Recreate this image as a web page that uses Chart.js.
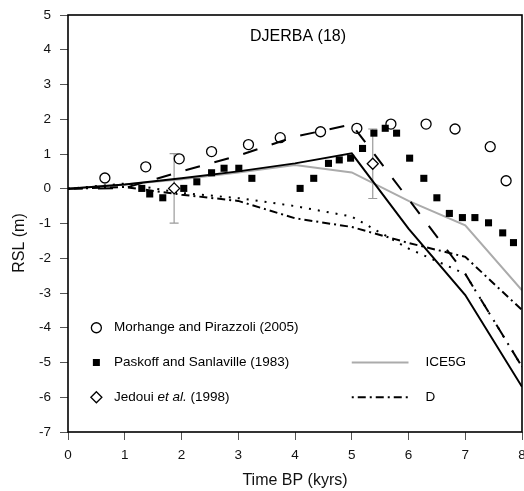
<!DOCTYPE html>
<html>
<head>
<meta charset="utf-8">
<script src="https://cdn.jsdelivr.net/npm/chart.js@4.4.1/dist/chart.umd.min.js"></script>
<style>
    html, body { margin: 0; padding: 0; background: #fff; }
    #wrap { width: 524px; height: 491px; position: relative; }
</style>
</head>
<body>
<div id="wrap"><canvas id="rslChart"></canvas></div>
<script>
// model curves, sampled every kyr
const modelAges = [0, 1, 2, 3, 4, 5, 6, 7, 8];
const modelSolid = [0, 0.12, 0.3, 0.5, 0.73, 1.02, -1.15, -3.06, -5.7];
const modelDashed = [0, 0.02, 0.5, 0.95, 1.5, 1.85, -0.3, -2.45, -5.12];
const modelDotted = [0, 0.15, -0.12, -0.27, -0.5, -0.8, -1.72, -2.45, -5.12];
const ice5g = [0, 0.12, 0.27, 0.47, 0.68, 0.47, -0.35, -1.05, -2.92];
const modelD = [0, 0.05, -0.17, -0.35, -0.85, -1.1, -1.56, -1.96, -3.49];

// observations
const morhangeAges = [0.65, 1.37, 1.96, 2.53, 3.18, 3.74, 4.45, 5.09, 5.69, 6.31, 6.82, 7.44, 7.72];
const morhangeRsl = [0.31, 0.63, 0.86, 1.07, 1.27, 1.47, 1.64, 1.74, 1.86, 1.86, 1.72, 1.21, 0.23];

const paskoffAges = [1.30, 1.44, 1.67, 2.04, 2.27, 2.53, 2.75, 3.01, 3.24, 4.09, 4.33, 4.59, 4.78, 4.98,
    5.19, 5.39, 5.59, 5.79, 6.02, 6.27, 6.50, 6.72, 6.95, 7.17, 7.41, 7.66, 7.85];
const paskoffRsl = [0.01, -0.15, -0.26, 0.01, 0.2, 0.46, 0.59, 0.59, 0.3, 0.01, 0.3, 0.73, 0.83, 0.88,
    1.16, 1.6, 1.74, 1.6, 0.88, 0.3, -0.26, -0.71, -0.83, -0.83, -0.98, -1.27, -1.55];

const jedouiAges = [1.87, 5.37];
const jedouiRsl = [0.01, 0.72];
const jedouiErr = [1.0, 1.0];

const xTicks = [0, 1, 2, 3, 4, 5, 6, 7, 8];
const yTicks = [-7, -6, -5, -4, -3, -2, -1, 0, 1, 2, 3, 4, 5];

const FONT = "'Liberation Sans', Arial, Helvetica, sans-serif";
const GREY = '#ababab';
const TICK_FONT = { family: FONT, size: 13.5 };

function toPoints(xs, ys) {
    return xs.map((x, i) => ({ x: x, y: ys[i] }));
}

// legend rows placed in data units inside the plot
const legendLeft = [
    { label: ['Morhange and Pirazzoli (2005)'], marker: 'circle', y: -4 },
    { label: ['Paskoff and Sanlaville (1983)'], marker: 'square', y: -5 },
    { label: ['Jedoui ', 'et al.', ' (1998)'], marker: 'diamond', y: -6 }
];
const legendRight = [
    { label: 'ICE5G', color: GREY, dash: [], y: -5 },
    { label: 'D', color: '#000', dash: [2, 4, 8, 4], y: -6 }
];

function drawMarker(ctx, kind, x, y) {
    ctx.save();
    ctx.lineWidth = 1.3;
    ctx.strokeStyle = '#000';
    ctx.beginPath();
    if (kind === 'circle') {
        ctx.arc(x, y, 5, 0, Math.PI * 2);
        ctx.stroke();
    } else if (kind === 'square') {
        ctx.fillStyle = '#000';
        ctx.fillRect(x - 3.5, y - 3.5, 7, 7);
    } else {
        ctx.moveTo(x, y - 5.5);
        ctx.lineTo(x + 5.5, y);
        ctx.lineTo(x, y + 5.5);
        ctx.lineTo(x - 5.5, y);
        ctx.closePath();
        ctx.fillStyle = '#fff';
        ctx.fill();
        ctx.stroke();
    }
    ctx.restore();
}

const errorBars = {
    id: 'errorBars',
    beforeDatasetsDraw(chart) {
        const { ctx, scales: { x, y } } = chart;
        ctx.save();
        ctx.strokeStyle = '#9a9a9a';
        ctx.lineWidth = 1.2;
        jedouiAges.forEach((age, i) => {
            const px = x.getPixelForValue(age);
            const top = y.getPixelForValue(jedouiRsl[i] + jedouiErr[i]);
            const bot = y.getPixelForValue(jedouiRsl[i] - jedouiErr[i]);
            ctx.beginPath();
            ctx.moveTo(px, top);
            ctx.lineTo(px, bot);
            ctx.moveTo(px - 4.5, top);
            ctx.lineTo(px + 4.5, top);
            ctx.moveTo(px - 4.5, bot);
            ctx.lineTo(px + 4.5, bot);
            ctx.stroke();
        });
        ctx.restore();
    }
};

const decorations = {
    id: 'decorations',
    afterDraw(chart) {
        const { ctx, chartArea: a, scales: { x, y } } = chart;
        ctx.save();

        // frame
        ctx.strokeStyle = '#000';
        ctx.lineWidth = 1.6;
        ctx.strokeRect(a.left, a.top, a.right - a.left, a.bottom - a.top);

        // axis titles
        ctx.fillStyle = '#111';
        ctx.font = `16px ${FONT}`;
        ctx.textAlign = 'center';
        ctx.textBaseline = 'middle';
        ctx.fillText('Time BP (kyrs)', (a.left + a.right) / 2, 481);
        ctx.save();
        ctx.translate(19.5, 243);
        ctx.rotate(-Math.PI / 2);
        ctx.fillText('RSL (m)', 0, 0);
        ctx.restore();

        // title
        ctx.fillStyle = '#000';
        ctx.font = `16px ${FONT}`;
        ctx.fillText('DJERBA (18)', 298, 37);

        // legend
        ctx.textAlign = 'left';
        legendLeft.forEach(item => {
            const py = y.getPixelForValue(item.y);
            drawMarker(ctx, item.marker, x.getPixelForValue(0.5), py);
            let tx = x.getPixelForValue(0.81);
            item.label.forEach((part, i) => {
                ctx.font = (i === 1 ? 'italic ' : '') + `13.5px ${FONT}`;
                ctx.fillText(part, tx, py);
                tx += ctx.measureText(part).width;
            });
        });
        ctx.font = `13.5px ${FONT}`;
        legendRight.forEach(item => {
            const py = y.getPixelForValue(item.y);
            ctx.beginPath();
            ctx.strokeStyle = item.color;
            ctx.lineWidth = 2;
            ctx.setLineDash(item.dash);
            ctx.moveTo(x.getPixelForValue(5.0), py);
            ctx.lineTo(x.getPixelForValue(6.0), py);
            ctx.stroke();
            ctx.setLineDash([]);
            ctx.fillText(item.label, x.getPixelForValue(6.3), py);
        });
        ctx.restore();
    }
};

const lineStyle = (color, dash) => ({
    type: 'line',
    borderColor: color,
    borderWidth: 2,
    borderDash: dash,
    pointRadius: 0,
    fill: false,
    tension: 0
});

const ctx = document.getElementById('rslChart').getContext('2d');

new Chart(ctx, {
    type: 'line',
    data: {
        datasets: [
            {
                label: 'Jedoui et al. (1998)',
                data: toPoints(jedouiAges, jedouiRsl),
                showLine: false,
                pointStyle: 'rectRot',
                pointRadius: 5.5,
                pointBackgroundColor: '#fff',
                pointBorderColor: '#000',
                pointBorderWidth: 1.3
            },
            {
                label: 'Paskoff and Sanlaville (1983)',
                data: toPoints(paskoffAges, paskoffRsl),
                showLine: false,
                pointStyle: 'rect',
                pointRadius: 5,
                pointBackgroundColor: '#000',
                pointBorderColor: '#000',
                pointBorderWidth: 0
            },
            {
                label: 'Morhange and Pirazzoli (2005)',
                data: toPoints(morhangeAges, morhangeRsl),
                showLine: false,
                pointStyle: 'circle',
                pointRadius: 5,
                pointBackgroundColor: 'rgba(0,0,0,0)',
                pointBorderColor: '#000',
                pointBorderWidth: 1.3
            },
            { label: 'solid', data: toPoints(modelAges, modelSolid), ...lineStyle('#000', []) },
            { label: 'dashed', data: toPoints(modelAges, modelDashed), ...lineStyle('#000', [15, 15]) },
            { label: 'dotted', data: toPoints(modelAges, modelDotted), ...lineStyle('#000', [2, 7]) },
            { label: 'D', data: toPoints(modelAges, modelD), ...lineStyle('#000', [2, 4, 8, 4]) },
            { label: 'ICE5G', data: toPoints(modelAges, ice5g), ...lineStyle(GREY, []) }
        ]
    },
    options: {
        responsive: true,
        maintainAspectRatio: false,
        animation: false,
        layout: {
            autoPadding: false,
            padding: { top: 15, right: 2, left: 0, bottom: 0 }
        },
        plugins: {
            legend: { display: false },
            tooltip: { enabled: false }
        },
        scales: {
            x: {
                type: 'linear',
                min: 0,
                max: 8,
                afterBuildTicks: s => { s.ticks = xTicks.map(v => ({ value: v })); },
                ticks: { color: '#111', font: TICK_FONT, padding: 7, maxRotation: 0 },
                grid: { drawOnChartArea: false, drawTicks: true, tickLength: 8, color: '#555', lineWidth: 1 },
                border: { display: false },
                afterFit: s => {
                    s.height = 59;
                    s.paddingLeft = 0;
                    s.paddingRight = 0;
                }
            },
            y: {
                type: 'linear',
                min: -7,
                max: 5,
                afterBuildTicks: s => { s.ticks = yTicks.map(v => ({ value: v })); },
                ticks: { color: '#111', font: TICK_FONT, padding: 9 },
                grid: { drawOnChartArea: false, drawTicks: true, tickLength: 8, color: '#555', lineWidth: 1 },
                border: { display: false },
                afterFit: s => {
                    s.width = 68;
                    s.paddingTop = 0;
                    s.paddingBottom = 0;
                }
            }
        }
    },
    plugins: [errorBars, decorations]
});
</script>
</body>
</html>
